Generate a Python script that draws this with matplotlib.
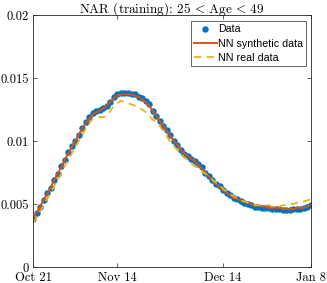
import numpy as np
import matplotlib
matplotlib.use('Agg')
import matplotlib.pyplot as plt

# days since Oct 21
days = np.arange(80)

data = [0.0038, 0.0043, 0.0048, 0.0053, 0.0059, 0.0063, 0.0069, 0.0074, 0.0080, 0.0085,
        0.0091, 0.0096, 0.0100, 0.0105, 0.0110, 0.0115, 0.0119, 0.0122, 0.0124, 0.0125,
        0.0126, 0.0128, 0.0131, 0.0135, 0.0137, 0.0138, 0.0138, 0.0138, 0.0137, 0.0137,
        0.0135, 0.0134, 0.0132, 0.0129, 0.0124, 0.0120, 0.0116, 0.0112, 0.0109, 0.0105,
        0.0100, 0.0097, 0.0093, 0.0090, 0.0088, 0.0086, 0.0084, 0.0082, 0.0079, 0.0075,
        0.0072, 0.0069, 0.0066, 0.0064, 0.0061, 0.0059, 0.0057, 0.0055, 0.0054, 0.0052,
        0.0051, 0.0050, 0.0049, 0.0048, 0.0048, 0.0047, 0.0047, 0.0047, 0.0046, 0.0046,
        0.0046, 0.0045, 0.0045, 0.0045, 0.0046, 0.0046, 0.0046, 0.0047, 0.0048, 0.0049]

nn_synthetic = [0.0038, 0.0043, 0.0048, 0.0053, 0.0058, 0.0063, 0.0069, 0.0074, 0.0079, 0.0085,
                0.0090, 0.0095, 0.0100, 0.0105, 0.0110, 0.0114, 0.0118, 0.0121, 0.0123, 0.0124,
                0.0126, 0.0128, 0.0131, 0.0134, 0.0136, 0.0137, 0.0137, 0.0137, 0.0137, 0.0136,
                0.0135, 0.0133, 0.0131, 0.0128, 0.0124, 0.0120, 0.0116, 0.0112, 0.0108, 0.0104,
                0.0100, 0.0097, 0.0093, 0.0090, 0.0088, 0.0086, 0.0084, 0.0081, 0.0078, 0.0075,
                0.0072, 0.0069, 0.0066, 0.0064, 0.0061, 0.0059, 0.0057, 0.0055, 0.0054, 0.0053,
                0.0052, 0.0051, 0.0050, 0.0049, 0.0049, 0.0048, 0.0048, 0.0047, 0.0047, 0.0047,
                0.0047, 0.0046, 0.0046, 0.0046, 0.0046, 0.0047, 0.0047, 0.0047, 0.0048, 0.0049]

nn_real = [0.0035, 0.0039, 0.0044, 0.0049, 0.0054, 0.0059, 0.0064, 0.0069, 0.0074, 0.0080,
           0.0085, 0.0090, 0.0095, 0.0100, 0.0105, 0.0110, 0.0114, 0.0118, 0.0119, 0.0119,
           0.0119, 0.0120, 0.0124, 0.0128, 0.0130, 0.0132, 0.0131, 0.0130, 0.0129, 0.0128,
           0.0127, 0.0125, 0.0123, 0.0120, 0.0117, 0.0115, 0.0112, 0.0108, 0.0104, 0.0099,
           0.0096, 0.0093, 0.0090, 0.0087, 0.0085, 0.0082, 0.0080, 0.0079, 0.0076, 0.0074,
           0.0072, 0.0069, 0.0067, 0.0065, 0.0062, 0.0060, 0.0058, 0.0056, 0.0055, 0.0053,
           0.0052, 0.0051, 0.0050, 0.0049, 0.0049, 0.0049, 0.0049, 0.0049, 0.0048, 0.0048,
           0.0048, 0.0049, 0.0049, 0.0050, 0.0050, 0.0051, 0.0052, 0.0052, 0.0053, 0.0054]

xtick_pos = [0, 24, 54, 79]
xtick_labels = ['Oct 21', 'Nov 14', 'Dec 14', 'Jan 8']
ytick_pos = [0, 0.005, 0.01, 0.015, 0.02]
ytick_labels = ['0', '0.005', '0.01', '0.015', '0.02']

plt.rcParams['mathtext.fontset'] = 'cm'
plt.rcParams['axes.formatter.use_mathtext'] = True

fig = plt.figure(figsize=(3.27, 2.83), dpi=100)
ax = fig.add_axes([33/327, 16/283, 278/327, 252/283])

ax.plot(days, data, 'o', color='#0072BD', markersize=3.6, label='Data')
ax.plot(days, nn_synthetic, '-', color='#D95319', lw=1.4, label='NN synthetic data')
ax.plot(days, nn_real, '--', color='#EDB120', lw=1.3, dashes=(4, 3), label='NN real data')

ax.set_xlim(0, 79)
ax.set_ylim(0, 0.02)
ax.set_xticks(xtick_pos)
ax.set_xticklabels(xtick_labels, fontfamily='cmr10', fontsize=9)
ax.set_yticks(ytick_pos)
ax.set_yticklabels(ytick_labels, fontfamily='cmr10', fontsize=9)
ax.tick_params(direction='in', top=True, right=True, length=3, width=0.5, color='#262626')
ax.tick_params(axis='x', pad=3.7)
ax.tick_params(axis='y', pad=3)
for s in ax.spines.values():
    s.set_linewidth(0.6)
    s.set_color('#262626')

ax.set_title(r'NAR (training): 25$\,<\,$Age$\,<\,$49', fontfamily='cmr10', fontsize=9.5, pad=2)

leg = ax.legend(loc='upper right', bbox_to_anchor=(0.982, 0.976), borderaxespad=0,
                prop={'family': 'Liberation Sans', 'size': 7.7},
                fancybox=False, framealpha=1, edgecolor='#262626', borderpad=0.3,
                handlelength=2.1, handletextpad=0.1, labelspacing=0.4)
leg.get_frame().set_linewidth(0.5)

fig.savefig('out.png', dpi=100)
